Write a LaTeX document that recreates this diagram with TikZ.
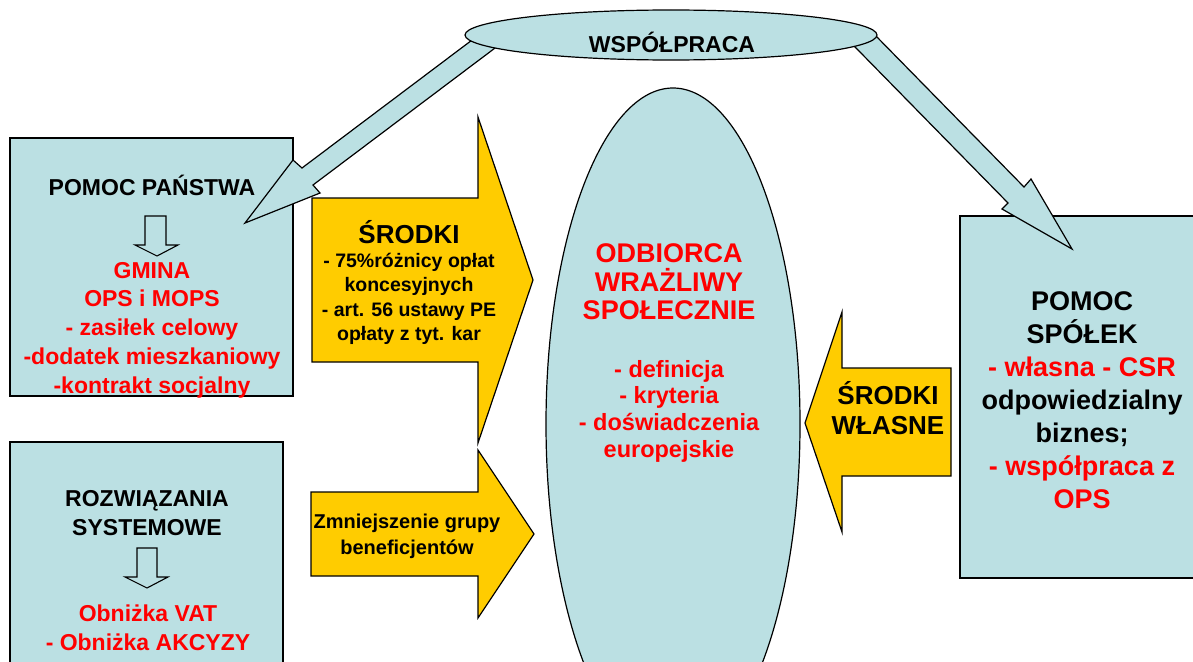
\documentclass[tikz,border=0pt]{standalone}
\usepackage{fontspec}
\setmainfont{Liberation Sans}
\definecolor{lblue}{HTML}{BBE0E3}
\definecolor{gold}{HTML}{FFCC00}
\definecolor{rd}{HTML}{FF0000}
\begin{document}
\begin{tikzpicture}[x=1pt,y=-1pt,
  shp/.style={draw=black,line width=1.2pt,line join=miter},
  blueshp/.style={shp,fill=lblue},
  goldshp/.style={shp,fill=gold},
  hollow/.style={draw=black,line width=1.1pt,fill=none},
  txt/.style={inner sep=0pt,align=center},
  fA/.style={font=\bfseries\fontsize{23}{28.8}\selectfont},
  fB/.style={font=\bfseries\fontsize{26}{30}\selectfont},
  fC/.style={font=\bfseries\fontsize{19.5}{24.3}\selectfont},
  fD/.style={font=\bfseries\fontsize{20}{26}\selectfont},
  fE/.style={font=\bfseries\fontsize{27}{33}\selectfont},
  fF/.style={font=\bfseries\fontsize{27}{28.5}\selectfont},
  fG/.style={font=\bfseries\fontsize{23.5}{26.7}\selectfont},
  red/.style={text=rd}]
\useasboundingbox (0,0) rectangle (1193,661);
\fill[white] (0,0) rectangle (1193,661);
\clip (0,0) rectangle (1193,661);

% boxes
\draw[blueshp] (10,138) rectangle (293,396);
\draw[blueshp] (10,442) rectangle (283,680);
\draw[blueshp] (960,216) rectangle (1210,578);

% hollow arrows in left boxes
\draw[hollow] (145,216) -- (166,216) -- (166,245) -- (178,245) -- (157,256) -- (135,245) -- (145,245) -- cycle;
\draw[hollow] (137,548) -- (157,548) -- (157,577) -- (168,577) -- (147,588) -- (125,577) -- (137,577) -- cycle;

% yellow block arrows
\draw[goldshp] (312,198) -- (478,198) -- (478,117) -- (533,280) -- (478,443) -- (478,362) -- (312,362) -- cycle;
\draw[goldshp] (311,492) -- (478,492) -- (478,450) -- (534,534) -- (478,618) -- (478,576) -- (311,576) -- cycle;
\draw[goldshp] (951,368) -- (842,368) -- (842,312) -- (805,423) -- (842,532) -- (842,476) -- (951,476) -- cycle;

% central ellipse
\draw[blueshp] (673,424) ellipse [x radius=127, y radius=336];

% blue block arrows from the top ellipse
\draw[blueshp] (494,23.5) -- (302,168) -- (293,160) -- (245,223) -- (320,193) -- (313,185) -- (513,34.5) -- cycle;
\draw[blueshp] (843.5,35.2) -- (1008,203) -- (1002,209) -- (1072,249) -- (1031,179) -- (1024,187) -- (873.5,33.5) -- cycle;

% top ellipse
\draw[blueshp] (671,35) ellipse [x radius=206, y radius=25];

% texts
\node[txt,fA] (wsp) at (672,42) {WSPÓŁPRACA};
\node[txt,fA] (pp) at (152,185) {POMOC PAŃSTWA};
\node[txt,fA,red] (gm) at (152,330) {GMINA\\OPS i MOPS\\- zasiłek celowy\\-dodatek mieszkaniowy\\-kontrakt socjalny};
\node[txt,fA] (rs) at (147,513) {ROZWIĄZANIA\\SYSTEMOWE};
\node[txt,fA,red] (ob) at (148,628) {Obniżka VAT\\- Obniżka AKCYZY};
\node[txt,fB] (sr) at (409,232) {ŚRODKI};
\node[txt,fC] (srl) at (409,299) {- 75\%różnicy opłat\\koncesyjnych\\- art. 56 ustawy PE\\opłaty z tyt. kar};
\node[txt,fD] (zm) at (407,536) {Zmniejszenie grupy\\beneficjentów};
\node[txt,fB] (sw) at (888,408) {ŚRODKI\\WŁASNE};
\node[txt,fE] (ps) at (1082,400) {POMOC\\SPÓŁEK\\\textcolor{rd}{- własna - CSR}\\odpowiedzialny\\biznes;\\\textcolor{rd}{- współpraca z}\\\textcolor{rd}{OPS}};
\node[txt,fF,red] (ow) at (669,282) {ODBIORCA\\WRAŻLIWY\\SPOŁECZNIE};
\node[txt,fG,red] (def) at (669,411) {- definicja\\- kryteria\\- doświadczenia\\europejskie};
\end{tikzpicture}
\end{document}
